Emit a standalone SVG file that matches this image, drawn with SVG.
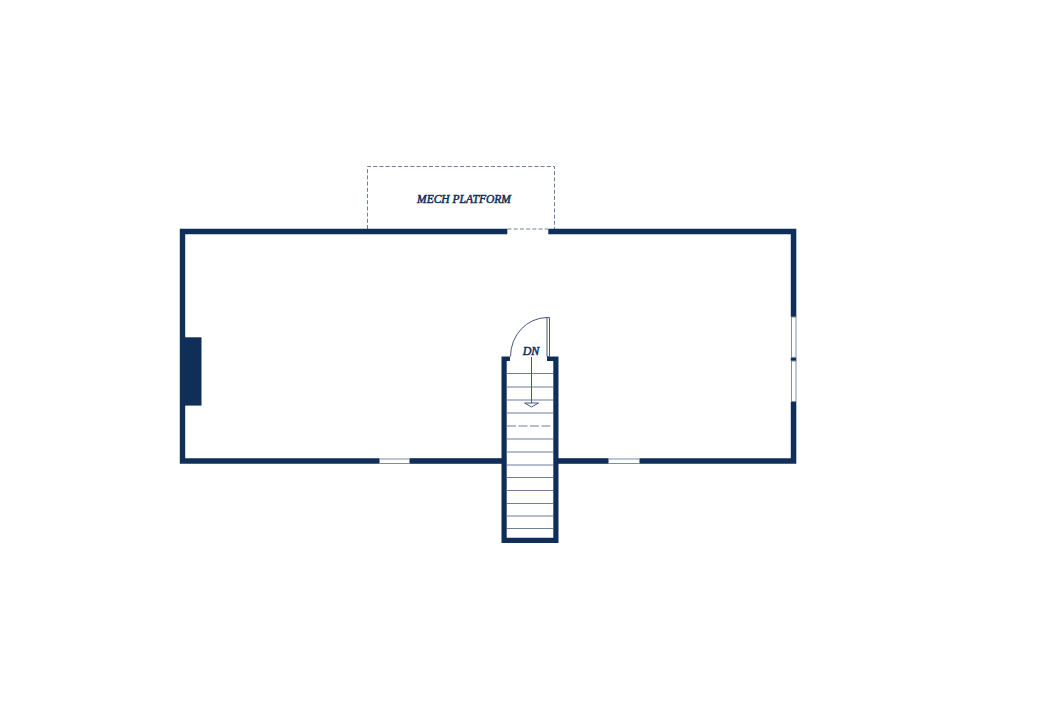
<svg xmlns="http://www.w3.org/2000/svg" width="1050" height="707" viewBox="0 0 1050 707">
<style>
.wall{fill:#0f2e58;stroke:none}
.thin{fill:none;stroke:#47597c;stroke-width:1}
.tread{stroke:#6f7f9b;stroke-width:1.100;fill:none}
.dash{fill:none;stroke:#6f7f9b;stroke-width:1;stroke-dasharray:4 2.2}
.glass{fill:#fff;stroke:#7f8ea8;stroke-width:1}
text{font-family:"Liberation Serif","Times New Roman",serif;font-style:italic;fill:#0f2e58;stroke:#0f2e58;stroke-width:.5}
</style>
<rect width="1050" height="707" fill="#fff"/>
<g id="platform">
<path class="dash" d="M367.500 229V166.500H554.500V229"/>
<path class="dash" d="M507.500 229H548"/>
<text x="464" y="202.500" font-size="11.500" text-anchor="middle">MECH PLATFORM</text>
</g>
<g id="walls">
<path class="wall" d="M179.800 228.700H507.300V234.300H185.200V458.200H379.500V463.800H179.800Z"/>
<path class="wall" d="M548.300 228.700H796.300V317H790.800V234.300H548.300Z"/>
<rect class="wall" x="790.800" y="357.300" width="5.500" height="3.700"/>
<path class="wall" d="M790.800 401.500H796.300V463.800H639.500V458.200H790.800Z"/>
<rect class="wall" x="409.500" y="458.200" width="92.500" height="5.600"/>
<rect class="wall" x="558" y="458.200" width="50.500" height="5.600"/>
</g>
<g id="chimney"><rect class="wall" x="185" y="337.300" width="16.500" height="68.300"/></g>
<g id="windows">
<rect class="glass" x="791.500" y="317" width="4.500" height="40.300"/>
<rect class="glass" x="791.500" y="361" width="4.500" height="40.500"/>
<rect class="glass" x="379.500" y="459" width="30" height="4.500"/>
<rect class="glass" x="608.500" y="459" width="31" height="4.500"/>
</g>
<g id="stairs">
<path class="wall" d="M501.500 356.500H510V361H506.700V537.700H553.300V361H547V356.500H558.500V543H501.500Z"/>
<path class="tread" d="M507 373.500H553M507 387H553M507 400H553M507 413H553M507 439H553M507 452H553M507 465H553M507 477.500H553M507 490.500H553M507 503.500H553M507 516H553M507 528.500H553"/>
<path class="dash" d="M507 426H553" style="stroke-dasharray:9 2.500"/>
<path class="thin" d="M531.500 357V403M524.500 403H538.500L531.500 407Z"/>
</g>
<g id="door">
<path class="thin" d="M510.500 356.500A37 39 0 0 1 547 317.500V356.500H549.500V317.500H547"/>
<text x="531" y="354.500" font-size="12" text-anchor="middle">DN</text>
</g>
</svg>
